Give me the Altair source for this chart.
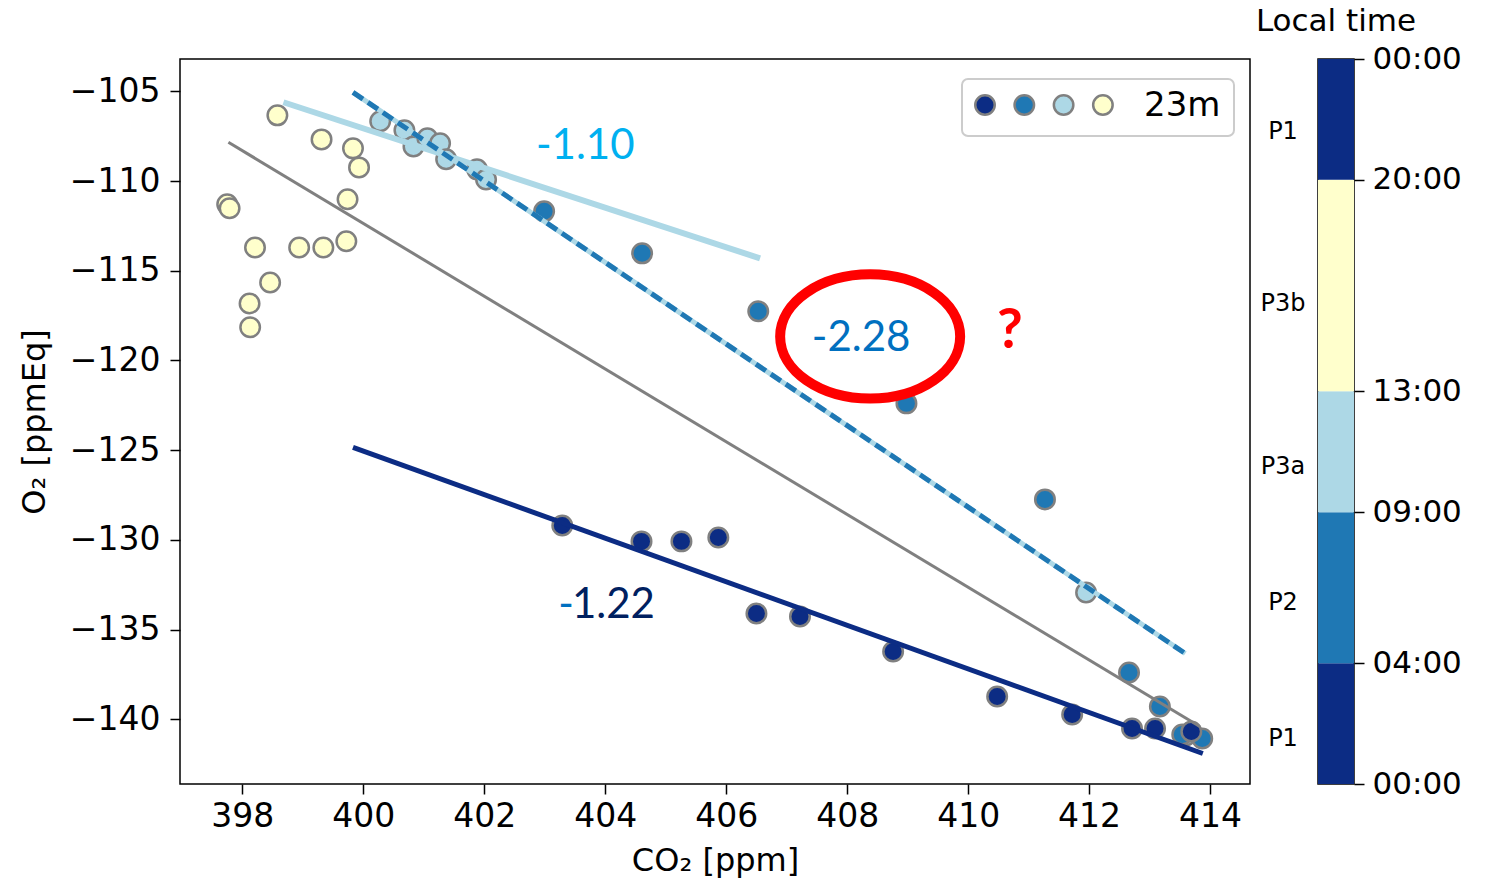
import altair as alt
import pandas as pd

# ---------------- data ----------------
# Period P1 (dark, night)
p1_co2 = [403.29, 404.60, 405.26, 405.87, 406.50, 407.22, 408.76, 410.48, 411.72, 412.71, 413.09, 413.69]
p1_o2 = [-129.19, -130.08, -130.08, -129.86, -134.10, -134.26, -136.22, -138.72, -139.73, -140.51, -140.51, -140.67]
# Period P2 (medium blue)
p2_co2 = [402.99, 404.61, 406.53, 408.98, 411.27, 412.66, 413.17, 413.54, 413.87]
p2_o2 = [-111.69, -114.03, -117.26, -122.39, -127.74, -137.39, -139.28, -140.84, -141.06]
# Period P3a (light blue)
p3a_co2 = [400.28, 400.68, 400.83, 401.06, 401.27, 401.37, 401.88, 402.03, 411.95, 413.60]
p3a_o2 = [-106.67, -107.17, -108.07, -107.62, -107.90, -108.79, -109.35, -109.91, -132.93, -140.90]
# Period P3b (yellow)
p3b_co2 = [398.58, 399.31, 399.83, 399.93, 399.74, 397.75, 397.79, 398.21, 398.94, 399.34, 399.72, 398.46, 398.12, 398.13]
p3b_o2 = [-106.34, -107.68, -108.18, -109.24, -111.02, -111.30, -111.52, -113.70, -113.70, -113.70, -113.36, -115.65, -116.82, -118.15]

period_names = ["P1", "P2", "P3a", "P3b"]
period_colors = ["#0c2c84", "#1f78b4", "#add8e6", "#ffffcc"]

# fitted lines (end points)
line_gray_co2 = [397.77, 413.83]
line_gray_o2 = [-107.84, -140.40]
line_light_co2 = [398.68, 406.56]
line_light_o2 = [-105.61, -114.31]
line_dash_co2 = [399.83, 413.59]
line_dash_o2 = [-105.06, -136.33]
line_dark_co2 = [399.83, 413.88]
line_dark_o2 = [-124.84, -141.90]

# annotations
slope_texts = ["-1.10", "-2.28"]
slope_text_co2 = [403.67, 408.23]
slope_text_o2 = [-108.07, -118.77]
slope_text_colors = ["#00b0f0", "#0070c0"]
dark_slope_text = "1.22"
dark_slope_co2 = 403.45
dark_slope_o2 = -133.6
ellipse_co2 = 408.38
ellipse_o2 = -118.66
question_co2 = 410.69
question_o2 = -118.38

x_ticks = [398, 400, 402, 404, 406, 408, 410, 412, 414]
y_ticks = [-140, -135, -130, -125, -120, -115, -110, -105]

# colorbar
cbar_start = [0, 4, 9, 13, 20]
cbar_end = [4, 9, 13, 20, 24]
cbar_period = ["P1", "P2", "P3a", "P3b", "P1"]
cbar_tick_values = [0, 4, 9, 13, 20, 24]
cbar_tick_labels = ["00:00", "04:00", "09:00", "13:00", "20:00", "00:00"]
cbar_label_text = ["P1", "P2", "P3a", "P3b", "P1"]
cbar_label_pos = [1.5, 6.0, 10.5, 15.9, 21.6]

legend_label = "23m"

# ---------------- build ----------------
FONT = "DejaVu Sans"
PT_SIZE = 380
rows = []
for name, xs, ys in [("P3b", p3b_co2, p3b_o2), ("P3a", p3a_co2, p3a_o2),
                     ("P2", p2_co2, p2_o2), ("P1", p1_co2, p1_o2)]:
    for a, b in zip(xs, ys):
        rows.append({"co2": a, "o2": b, "period": name})
points = pd.DataFrame(rows)

x_scale = alt.Scale(domain=[396.97, 414.66], nice=False, zero=False)
y_scale = alt.Scale(domain=[-143.6, -103.2], nice=False, zero=False)
color_scale = alt.Scale(domain=period_names, range=period_colors)

x_enc = alt.X("co2:Q", scale=x_scale,
              axis=alt.Axis(values=x_ticks, format="d", title="CO₂ [ppm]", grid=False,
                            domain=False, tickSize=10, tickWidth=1.5, tickColor="black",
                            labelFont=FONT, labelFontSize=33, labelColor="black", labelPadding=6,
                            titleFont=FONT, titleFontSize=32, titleFontWeight="normal",
                            titleColor="black", titlePadding=12, labelFlush=False))
y_enc = alt.Y("o2:Q", scale=y_scale,
              axis=alt.Axis(values=y_ticks, format="d", title="O₂ [ppmEq]", grid=False,
                            domain=False, tickSize=10, tickWidth=1.5, tickColor="black",
                            labelFont=FONT, labelFontSize=33, labelColor="black", labelPadding=10,
                            titleFont=FONT, titleFontSize=32, titleFontWeight="normal",
                            titleColor="black", titlePadding=18, labelFlush=False))

pts = alt.Chart(points).mark_circle(size=PT_SIZE, stroke="#808080", strokeWidth=2.5,
                                    opacity=1, fillOpacity=1).encode(
    x=x_enc, y=y_enc,
    fill=alt.Fill("period:N", scale=color_scale, legend=None),
)


def line_layer(xs, ys, **kw):
    df = pd.DataFrame({"co2": xs, "o2": ys})
    return alt.Chart(df).mark_line(**kw).encode(x="co2:Q", y="o2:Q")


gray_line = line_layer(line_gray_co2, line_gray_o2, color="#808080", strokeWidth=3)
light_line = line_layer(line_light_co2, line_light_o2, color="#add8e6", strokeWidth=6)
dark_line = line_layer(line_dark_co2, line_dark_o2, color="#0c2c84", strokeWidth=5)
dash_base = line_layer(line_dash_co2, line_dash_o2, color="#add8e6", strokeWidth=5)
dash_line = line_layer(line_dash_co2, line_dash_o2, color="#1f78b4", strokeWidth=5,
                       strokeDash=[12, 6])

slopes_df = pd.DataFrame({"t": slope_texts, "co2": slope_text_co2, "o2": slope_text_o2,
                          "c": slope_text_colors})
slope_txt = alt.Chart(slopes_df).mark_text(font="Lato", fontSize=42, align="center",
                                           baseline="middle").encode(
    x="co2:Q", y="o2:Q", text="t:N", color=alt.Color("c:N", scale=None))

dark_df = pd.DataFrame({"co2": [dark_slope_co2], "o2": [dark_slope_o2]})
dark_txt = alt.Chart(dark_df).mark_text(font="Lato", fontSize=42, align="left",
                                        baseline="middle", color="#002060").encode(
    x="co2:Q", y="o2:Q", text=alt.value(dark_slope_text))
dark_minus = alt.Chart(dark_df).mark_text(font="Lato", fontSize=42, align="right",
                                          baseline="middle", color="#0070c0", dx=2).encode(
    x="co2:Q", y="o2:Q", text=alt.value("-"))

ell_df = pd.DataFrame({"co2": [ellipse_co2], "o2": [ellipse_o2]})
ellipse = alt.Chart(ell_df).mark_point(
    shape="M -1 0 A 1 0.69 0 1 0 1 0 A 1 0.69 0 1 0 -1 0 Z",
    size=32400, stroke="#ff0000", strokeWidth=10, filled=False, opacity=1).encode(
    x="co2:Q", y="o2:Q")

q_df = pd.DataFrame({"co2": [question_co2], "o2": [question_o2]})
question = alt.Chart(q_df).mark_text(font="Lato", fontSize=56, fontWeight="bold",
                                     color="#ff0000", align="center",
                                     baseline="middle").encode(
    x="co2:Q", y="o2:Q", text=alt.value("?"))

one = pd.DataFrame({"k": [0]})
leg_box = alt.Chart(one).mark_rect(fill="white", stroke="#cccccc", strokeWidth=2,
                                   cornerRadius=6).encode(
    x=alt.value(782), x2=alt.value(1054), y=alt.value(20), y2=alt.value(77))
leg_dots = []
for i, c in enumerate(period_colors):
    leg_dots.append(alt.Chart(one).mark_circle(size=PT_SIZE, stroke="#808080", strokeWidth=2.5,
                                               fill=c, opacity=1).encode(
        x=alt.value(805 + i * 39.3), y=alt.value(46)))
leg_text = alt.Chart(one).mark_text(font=FONT, fontSize=34, align="left",
                                    baseline="middle", color="black").encode(
    x=alt.value(964), y=alt.value(47), text=alt.value(legend_label))

main = alt.layer(pts, gray_line, light_line, dark_line, dash_base, dash_line,
                 slope_txt, dark_minus, dark_txt, ellipse, question,
                 leg_box, *leg_dots, leg_text).properties(width=1070, height=725)

# colorbar
expr = "''"
for v, l in zip(cbar_tick_values, cbar_tick_labels):
    expr = f"datum.value == {v} ? '{l}' : ({expr})"

cb_axis = alt.Axis(orient="right", values=cbar_tick_values, labelExpr=expr,
                   title=None, grid=False, domain=False, tickSize=10,
                   tickWidth=1.5, tickColor="black", labelFont=FONT,
                   labelFontSize=31, labelColor="black", labelPadding=8)
cb_scale = alt.Scale(domain=[0, 24], nice=False, zero=False)

cb_df = pd.DataFrame({"start": cbar_start, "end": cbar_end, "period": cbar_period})
cb_rect = alt.Chart(cb_df).mark_rect().encode(
    y=alt.Y("start:Q", scale=cb_scale, axis=cb_axis),
    y2="end:Q",
    fill=alt.Fill("period:N", scale=color_scale, legend=None),
)
cb_lab_df = pd.DataFrame({"t": cbar_label_text, "pos": cbar_label_pos})
cb_labels = alt.Chart(cb_lab_df).mark_text(font=FONT, fontSize=24, align="center",
                                           baseline="middle", color="black").encode(
    x=alt.value(-35), y=alt.Y("pos:Q", scale=cb_scale, axis=cb_axis), text="t:N")

colorbar = alt.layer(cb_rect, cb_labels).properties(
    width=36, height=725,
    title=alt.TitleParams("Local time", font=FONT, fontSize=31, fontWeight="normal",
                          color="black", anchor="middle", offset=5),
)

chart = alt.hconcat(main, colorbar, spacing=68, bounds="flush").configure_view(
    stroke="black", strokeWidth=1.5
).properties(
    padding={"left": 17, "top": 5, "right": 5, "bottom": 5},
    background="white",
)

chart.save("out.html", embed_options={"renderer": "svg", "actions": False})
